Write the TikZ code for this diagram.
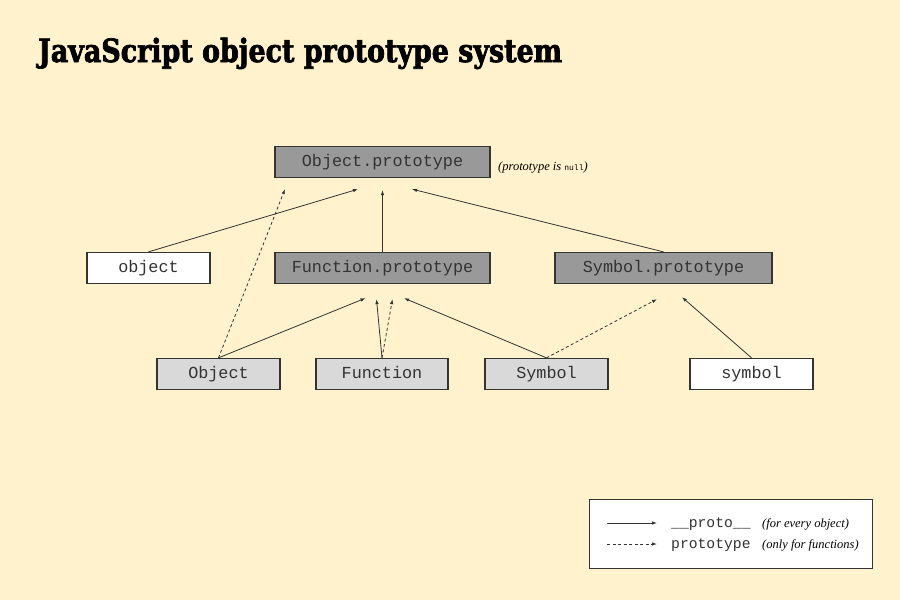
\documentclass[tikz,border=0pt]{standalone}
\usepackage{fontspec}
\setmainfont{Liberation Serif}
\setmonofont{Liberation Mono}
\newfontfamily\headfont[FakeStretch=0.84,FakeBold=2.2]{DejaVu Serif}
\usepackage{xcolor}
\usetikzlibrary{calc}
\usetikzlibrary{arrows.meta}
\definecolor{paper}{HTML}{FFF2CC}
\definecolor{protogray}{HTML}{999999}
\definecolor{ctorgray}{HTML}{D9D9D9}
\definecolor{ink}{HTML}{333333}

\begin{document}
\begin{tikzpicture}[x=1pt,y=-1pt,
		box/.style={draw=ink,line width=1.3pt,inner sep=0pt,minimum height=31pt,text height=11pt,text depth=3pt,text=ink,font=\fontsize{16.8}{18}\ttfamily},
		proto/.style={box,fill=protogray,minimum width=215pt},
		ctor/.style={box,fill=ctorgray,minimum width=123pt},
		inst/.style={box,fill=white,minimum width=123pt},
		link/.style={->,draw=ink,line width=0.8pt},
		fnlink/.style={link,dash pattern=on 3pt off 2.5pt},
		note/.style={font=\fontsize{12.5}{14}\selectfont\itshape,inner sep=0pt}]
		\tikzset{>={Latex[length=5pt,width=3.5pt]}}
		\fill[paper] (0,0) rectangle (900,600);
		\useasboundingbox (0,0) rectangle (900,600);
		
		\node[anchor=base west,inner sep=0pt,font=\headfont\bfseries\fontsize{32}{36}\selectfont] (title) at (38,62) {JavaScript object prototype system};
		
		\node[proto] (Oproto) at (382.5,162) {Object.prototype};
		\node[note,anchor=base west] (nullnote) at (498,170) {(prototype is {\upshape\ttfamily\fontsize{8}{9}\selectfont null})};
		
		\node[inst] (obj) at (148.5,268) {object};
		\node[proto] (Fproto) at (382.5,268) {Function.prototype};
		\node[proto,minimum width=217pt] (Sproto) at (663.5,268) {Symbol.prototype};
		
		\node[ctor] (Obj) at (218.5,374) {Object};
		\node[ctor,minimum width=132pt] (Fn) at (382,374) {Function};
		\node[ctor] (Sym) at (546.5,374) {Symbol};
		\node[inst] (sym) at (751.5,374) {symbol};
		
		\draw[link] (obj.north) -- ($(Oproto.south)+(-24.5,11)$);
		\draw[fnlink] (Obj.north) -- ($(Oproto.south)+(-97.5,11)$);
		\draw[link] (Fproto.north) -- ($(Oproto.south)+(0,12)$);
		\draw[link] (Sproto.north) -- ($(Oproto.south)+(29.5,11)$);
		
		\draw[link] (Obj.north) -- ($(Fproto.south)+(-17,14)$);
		\draw[link] (Fn.north) -- ($(Fproto.south)+(-6,15)$);
		\draw[fnlink] (Fn.north) -- ($(Fproto.south)+(10,15)$);
		\draw[link] (Sym.north) -- ($(Fproto.south)+(21.5,14)$);
		
		\draw[fnlink] (Sym.north) -- ($(Sproto.south)+(-6.5,15)$);
		\draw[link] (sym.north) -- ($(Sproto.south)+(18.5,13)$);
		
		\node[draw=ink,line width=1pt,fill=white,minimum width=283pt,minimum height=69pt,inner sep=0pt] (legend) at (730.5,533.5) {};
		\coordinate (keyA) at (607,523);
		\coordinate (keyB) at (657,523);
		\coordinate (keyC) at (607,544);
		\coordinate (keyD) at (657,544);
		\draw[link] (keyA) -- (keyB);
		\draw[fnlink] (keyC) -- (keyD);
		\node[anchor=base west,inner sep=0pt,text=ink,font=\fontsize{14.7}{16}\ttfamily] (protokey) at (671,527) {\_\_proto\_\_};
		\node[anchor=base west,inner sep=0pt,text=ink,font=\fontsize{14.7}{16}\ttfamily] (prototypekey) at (671,548) {prototype};
		\node[note,anchor=base west] (protonote) at (762,527) {(for every object)};
		\node[note,anchor=base west] (prototypenote) at (762,548) {(only for functions)};
\end{tikzpicture}
\end{document}
